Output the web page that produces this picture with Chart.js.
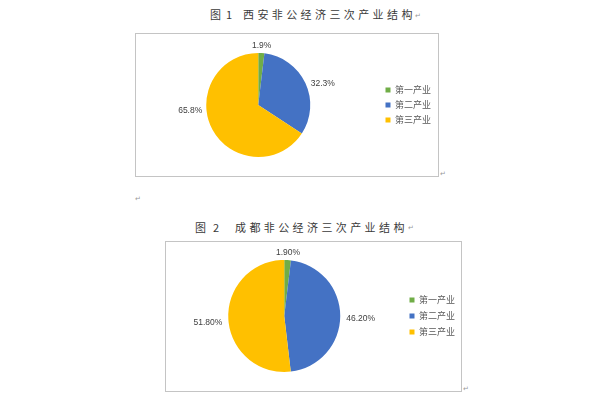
<!DOCTYPE html>
<html>
<head>
<meta charset="utf-8">
<script src="https://cdn.jsdelivr.net/npm/chart.js@4/dist/chart.umd.min.js"></script>
<style>
  body { margin: 0; background: #fff; width: 600px; height: 400px; position: relative; overflow: hidden; }
  .title { position: absolute; font-family: "Noto Sans CJK SC", sans-serif; font-size: 11px; color: #3a3a3a; white-space: nowrap; letter-spacing: 3.4px; }
  .box { position: absolute; border: 1px solid #c4c4c4; background: #fff; }
  .mark { position: absolute; font-family: "DejaVu Sans", sans-serif; font-size: 7px; color: #999; }
  canvas { display: block; }
</style>
</head>
<body>

<span class="title" style="left:210px;top:6px">图</span>
<span class="title" style="left:226px;top:6px">1</span>
<span class="title" style="left:243px;top:6px">西安非公经济三次产业结构</span>
<span class="mark" style="left:415px;top:12px">↵</span>

<div class="box" style="left:135px;top:33px;width:302px;height:142px">
  <canvas id="chart-one" width="302" height="142"></canvas>
</div>
<span class="mark" style="left:440px;top:170px">↵</span>
<span class="mark" style="left:135px;top:195px">↵</span>

<span class="title" style="left:195px;top:219px">图</span>
<span class="title" style="left:213px;top:219px">2</span>
<span class="title" style="left:235px;top:219px">成都非公经济三次产业结构</span>
<span class="mark" style="left:408px;top:224px">↵</span>

<div class="box" style="left:165px;top:241px;width:295px;height:149px">
  <canvas id="chart-two" width="295" height="149"></canvas>
</div>
<span class="mark" style="left:463px;top:385px">↵</span>

<script>
  // Data
  const industryLabels = ["第一产业", "第二产业", "第三产业"];
  const xianValues = [1.9, 32.3, 65.8];
  const chengduValues = [1.9, 46.2, 51.8];
  const sliceColors = ["#70AD47", "#4472C4", "#FFC000"];

  // Percent labels just outside each slice
  const outsideLabels = {
    id: "outsideLabels",
    afterDatasetsDraw(chart, args, opts) {
      const ctx = chart.ctx;
      const meta = chart.getDatasetMeta(0);
      const values = chart.data.datasets[0].data;
      ctx.save();
      ctx.font = opts.font;
      ctx.fillStyle = opts.color;
      meta.data.forEach((arc, i) => {
        const p = arc.getProps(["x", "y", "startAngle", "endAngle", "outerRadius"], true);
        const mid = (p.startAngle + p.endAngle) / 2;
        const cos = Math.cos(mid);
        const sin = Math.sin(mid);
        const r = p.outerRadius + opts.gap;
        const shift = (opts.shift && opts.shift[i]) || [0, 0];
        ctx.textAlign = cos > 0.3 ? "left" : cos < -0.3 ? "right" : "center";
        ctx.textBaseline = sin < -0.7 ? "bottom" : sin > 0.7 ? "top" : "middle";
        ctx.fillText(values[i].toFixed(opts.decimals) + "%",
          p.x + cos * r + shift[0], p.y + sin * r + opts.dy + shift[1]);
      });
      ctx.restore();
    }
  };

  function makePie(id, values, decimals, padding, legendPadding, shift) {
    const ctx = document.getElementById(id).getContext("2d");
    return new Chart(ctx, {
      type: "pie",
      data: {
        labels: industryLabels,
        datasets: [{
          data: values,
          backgroundColor: sliceColors,
          borderWidth: 0
        }]
      },
      options: {
        responsive: false,
        animation: false,
        layout: { padding: padding },
        plugins: {
          tooltip: { enabled: false },
          legend: {
            position: "right",
            labels: {
              boxWidth: 5,
              boxHeight: 5,
              padding: legendPadding,
              color: "#595959",
              font: { family: "Noto Sans CJK SC", size: 9 }
            }
          },
          outsideLabels: {
            font: "8.5px 'Liberation Sans', sans-serif",
            color: "#404040",
            gap: 6,
            dy: 3,
            decimals: decimals,
            shift: shift
          }
        }
      },
      plugins: [outsideLabels]
    });
  }

  makePie("chart-one", xianValues, 1, { top: 19, bottom: 19, left: 1, right: -3 }, 6, [[0, 0], [0, 0], [-5, -25]]);
  makePie("chart-two", chengduValues, 2, { top: 18, bottom: 19, left: 0, right: -4 }, 7, null);
</script>
</body>
</html>
